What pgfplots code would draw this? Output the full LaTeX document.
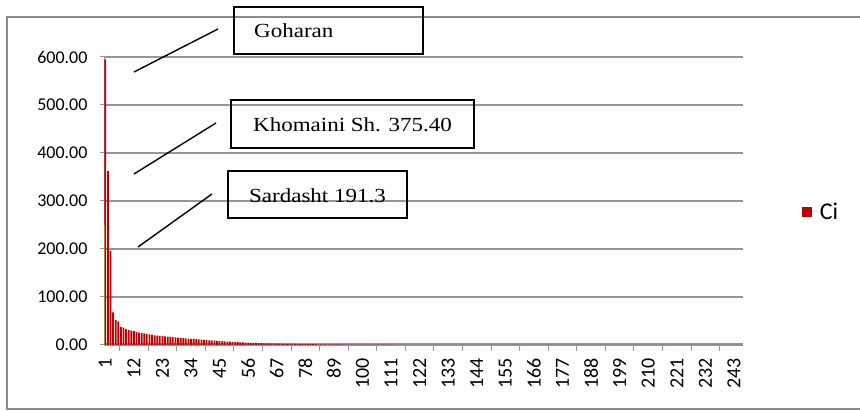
\documentclass[border=0pt]{standalone}
\usepackage{fontspec}
\usepackage{graphicx}
\usepackage{pgfplots}
\pgfplotsset{compat=1.18}
\setmainfont{Carlito}
\newfontfamily\serif{Liberation Serif}
\definecolor{barred}{RGB}{192,0,0}
\definecolor{barorange}{RGB}{185,125,45}
\definecolor{gridgray}{RGB}{150,150,150}
\definecolor{framegray}{RGB}{140,140,140}
\begin{document}
\begin{tikzpicture}[x=1pt,y=1pt]
\path[use as bounding box] (0,0) rectangle (860,411);
\draw[framegray, line width=1.2pt] (870,394) -- (7,394) -- (7,2) -- (870,2);
\begin{axis}[
  at={(104pt,66pt)}, anchor=south west, scale only axis,
  width=639pt, height=288pt,
  xmin=0.5, xmax=246.5, ymin=0, ymax=600,
  axis x line*=bottom, axis y line*=left,
  x axis line style={color=gridgray, line width=3pt, -},
  y axis line style={color=gridgray, line width=1pt, -},
  tick align=outside,
  xtick={1,12,...,243},
  major x tick style={draw=none},
  minor xtick={6.5,17.5,...,237.5},
  minor x tick style={color=gridgray, line width=1pt},
  minor tick length=6pt,
  major tick length=4pt,
  y tick style={color=gridgray, line width=1pt},
  ytick={0,100,...,600},
  ymajorgrids,
  grid style={gridgray, line width=1.6pt},
  /pgf/number format/assume math mode=true,
  xticklabel style={rotate=90, anchor=east, font=\fontsize{20}{20}\selectfont, xshift=-6pt},
  yticklabel style={font=\fontsize{18}{18}\selectfont, xshift=-9pt,
    /pgf/number format/.cd, fixed, fixed zerofill, precision=2},
  legend style={at={(1.087,0.462)}, anchor=west, draw=none, fill=none,
    font=\fontsize{24}{24}\selectfont},
  legend image code/.code={\fill[barred] (0pt,-5pt) rectangle (10pt,5pt);
    \path (0pt,0pt) -- (16pt,0pt);},
]
\addplot[ybar, bar width=0.68, fill=barred, draw=none] table[row sep=\\] {
x y\\
1 595\\ 2 362\\ 3 196\\ 4 68\\ 5 52\\ 6 49\\ 7 38\\ 8 36\\ 9 33\\ 10 31\\
11 30\\ 12 29\\ 13 27\\ 14 26\\ 15 25\\ 16 24\\ 17 23\\ 18 22\\ 19 21\\ 20 20\\
21 19.5\\ 22 19\\ 23 18.5\\ 24 18\\ 25 17.5\\ 26 17\\ 27 16.5\\ 28 16\\ 29 15.5\\ 30 15\\
31 14.5\\ 32 14\\ 33 13.5\\ 34 13\\ 35 12.5\\ 36 12\\ 37 11.5\\ 38 11\\ 39 10.6\\ 40 10.2\\
41 9.8\\ 42 9.4\\ 43 9.0\\ 44 8.6\\ 45 8.2\\ 46 7.8\\ 47 7.5\\ 48 7.2\\ 49 6.9\\ 50 6.6\\
51 6.3\\ 52 6.0\\ 53 5.7\\ 54 5.4\\ 55 5.1\\ 56 4.8\\ 57 4.6\\ 58 4.4\\ 59 4.2\\ 60 4.0\\
61 3.8\\ 62 3.6\\ 63 3.4\\ 64 3.2\\ 65 3.0\\ 66 2.9\\ 67 2.8\\ 68 2.7\\ 69 2.6\\ 70 2.5\\
71 2.4\\ 72 2.3\\ 73 2.2\\ 74 2.1\\ 75 2.0\\ 76 1.9\\ 77 1.8\\ 78 1.75\\ 79 1.7\\ 80 1.65\\
81 1.6\\ 82 1.55\\ 83 1.5\\ 84 1.45\\ 85 1.4\\ 86 1.35\\ 87 1.3\\ 88 1.25\\ 89 1.2\\ 90 1.15\\
91 1.1\\ 92 1.05\\ 93 1.0\\ 94 0.97\\ 95 0.94\\ 96 0.91\\ 97 0.88\\ 98 0.85\\ 99 0.82\\ 100 0.79\\
101 0.74\\ 102 0.72\\ 103 0.70\\ 104 0.68\\ 105 0.66\\ 106 0.64\\ 107 0.62\\ 108 0.60\\ 109 0.58\\ 110 0.56\\
111 0.54\\ 112 0.52\\ 113 0.50\\ 114 0.49\\ 115 0.48\\ 116 0.47\\ 117 0.46\\ 118 0.45\\ 119 0.44\\ 120 0.43\\
121 0.42\\ 122 0.41\\ 123 0.40\\ 124 0.39\\ 125 0.38\\ 126 0.37\\ 127 0.36\\ 128 0.35\\ 129 0.34\\ 130 0.33\\
131 0.32\\ 132 0.31\\ 133 0.30\\ 134 0.29\\ 135 0.28\\ 136 0.27\\ 137 0.26\\ 138 0.25\\ 139 0.24\\ 140 0.23\\
141 0.22\\ 142 0.21\\ 143 0.21\\ 144 0.20\\ 145 0.20\\ 146 0.19\\ 147 0.19\\ 148 0.18\\ 149 0.18\\ 150 0.17\\
151 0.17\\ 152 0.16\\ 153 0.16\\ 154 0.15\\ 155 0.15\\ 156 0.14\\ 157 0.14\\ 158 0.13\\ 159 0.13\\ 160 0.12\\
161 0.12\\ 162 0.11\\ 163 0.11\\ 164 0.10\\ 165 0.10\\ 166 0.10\\ 167 0.09\\ 168 0.09\\ 169 0.09\\ 170 0.08\\
171 0.08\\ 172 0.08\\ 173 0.07\\ 174 0.07\\ 175 0.07\\ 176 0.06\\ 177 0.06\\ 178 0.06\\ 179 0.05\\ 180 0.05\\
181 0.05\\ 182 0.05\\ 183 0.04\\ 184 0.04\\ 185 0.04\\ 186 0.04\\ 187 0.03\\ 188 0.03\\ 189 0.03\\ 190 0.03\\
191 0.03\\ 192 0.02\\ 193 0.02\\ 194 0.02\\ 195 0.02\\ 196 0.02\\ 197 0.02\\ 198 0.02\\ 199 0.01\\ 200 0.01\\
201 0.01\\ 202 0.01\\ 203 0.01\\ 204 0.01\\ 205 0.01\\ 206 0.01\\ 207 0.01\\ 208 0.01\\ 209 0.01\\ 210 0.01\\
211 0.01\\ 212 0.01\\ 213 0.01\\ 214 0.01\\ 215 0.01\\ 216 0.01\\ 217 0.01\\ 218 0.01\\ 219 0.01\\ 220 0.01\\
221 0.01\\ 222 0.01\\ 223 0.01\\ 224 0.01\\ 225 0.01\\ 226 0.01\\ 227 0.01\\ 228 0.01\\ 229 0.01\\ 230 0.01\\
231 0.01\\ 232 0.01\\ 233 0.01\\ 234 0.01\\ 235 0.01\\ 236 0.01\\ 237 0.01\\ 238 0.01\\ 239 0.01\\ 240 0.01\\
241 0.01\\ 242 0.01\\ 243 0.01\\ 244 0.01\\ 245 0.01\\ 246 0.01\\
};
\addlegendentry{Ci}
\addplot[ybar, bar width=0.32, bar shift=-0.17, fill=barorange, draw=none, forget plot]
  coordinates {(1,250)};
\end{axis}
% annotation boxes and leader lines
\draw[black, line width=1.5pt] (234,404) rectangle (423,357);
\node[anchor=west, inner sep=0pt] at (254,380) {\serif\fontsize{20}{22}\selectfont\scalebox{1.15}[1]{Goharan}};
\draw[black, line width=1.5pt] (231,311) rectangle (474,263);
\node[inner sep=0pt] at (352.5,286) {\serif\fontsize{20}{22}\selectfont\scalebox{1.15}[1]{Khomaini Sh. 375.40}};
\draw[black, line width=1.5pt] (228,240) rectangle (407,193);
\node[inner sep=0pt] at (317.5,215) {\serif\fontsize{20}{22}\selectfont\scalebox{1.15}[1]{Sardasht 191.3}};
\draw[black, line width=1.4pt] (218,382) -- (134,339);
\draw[black, line width=1.4pt] (216,288) -- (134,237);
\draw[black, line width=1.4pt] (212,217) -- (138,164);
\end{tikzpicture}
\end{document}
